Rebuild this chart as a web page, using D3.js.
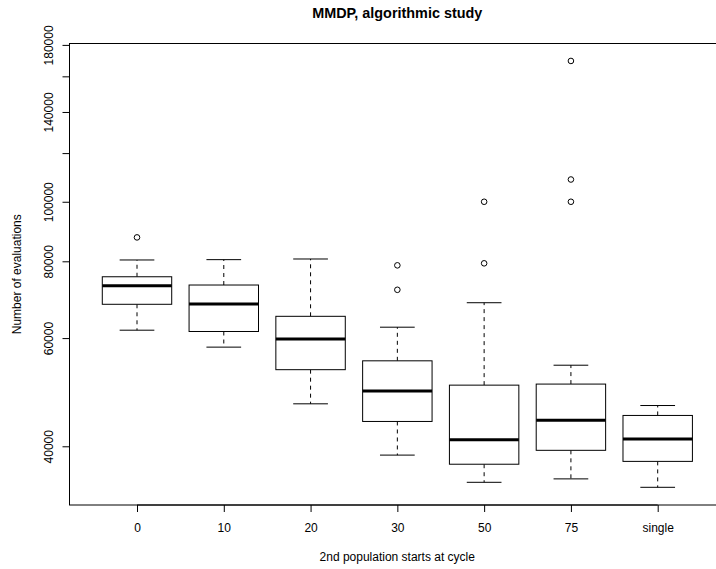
<!DOCTYPE html>
<html>
<head>
<meta charset="utf-8">
<script src="https://cdn.jsdelivr.net/npm/d3@7"></script>
<style>
  body { margin: 0; background: #fff; }
  svg { font-family: "Liberation Sans", Arial, sans-serif; }
</style>
</head>
<body>
<svg id="chart" width="716" height="569"></svg>
<script>
var categories = ["0", "10", "20", "30", "50", "75", "single"];
var whiskerLow  = [61800, 58000, 46900, 38700, 34950, 35400, 34300];
var q1          = [68100, 61500, 53300, 43900, 37400, 39400, 37800];
var median      = [73000, 68200, 59800, 49200, 41000, 44100, 41100];
var q3          = [75500, 73200, 65100, 55100, 50300, 50500, 44900];
var whiskerHigh = [80400, 80500, 80700, 62500, 68500, 54200, 46600];
var outliers    = [[87500], [], [], [78800, 71900], [100000, 79400], [169500, 108700, 100000], []];

var yTicks = [40000, 60000, 80000, 100000, 120000, 140000, 160000, 180000];
var yTickLabels = ["40000", "60000", "80000", "100000", "", "140000", "", "180000"];

var plot = { left: 69.5, right: 725, top: 43.5, bottom: 505 };

var svg = d3.select("#chart");

var x = d3.scalePoint()
    .domain(categories)
    .range([137, 657.7]);

var y = d3.scaleLog()
    .domain([32100, 180950])
    .range([plot.bottom, plot.top]);

var boxW = x.step() * 0.8;

var data = categories.map(function(c, i) {
    return {
        cat: c,
        lo: whiskerLow[i], q1: q1[i], med: median[i], q3: q3[i], hi: whiskerHigh[i],
        out: outliers[i]
    };
});

// frame (right edge falls outside the window like the original)
svg.append("rect")
    .attr("x", plot.left)
    .attr("y", plot.top)
    .attr("width", plot.right - plot.left)
    .attr("height", plot.bottom - plot.top)
    .attr("fill", "none")
    .attr("stroke", "#000")
    .attr("stroke-width", 1);

var g = svg.selectAll(".box")
    .data(data)
    .enter().append("g")
    .attr("class", "box");

// whiskers
g.append("line")
    .attr("x1", function(d) { return x(d.cat); })
    .attr("x2", function(d) { return x(d.cat); })
    .attr("y1", function(d) { return y(d.q3); })
    .attr("y2", function(d) { return y(d.hi); })
    .attr("stroke", "#000")
    .attr("stroke-dasharray", "4,4");
g.append("line")
    .attr("x1", function(d) { return x(d.cat); })
    .attr("x2", function(d) { return x(d.cat); })
    .attr("y1", function(d) { return y(d.q1); })
    .attr("y2", function(d) { return y(d.lo); })
    .attr("stroke", "#000")
    .attr("stroke-dasharray", "4,4");

// staples
["hi", "lo"].forEach(function(k) {
    g.append("line")
        .attr("x1", function(d) { return x(d.cat) - boxW / 4; })
        .attr("x2", function(d) { return x(d.cat) + boxW / 4; })
        .attr("y1", function(d) { return y(d[k]); })
        .attr("y2", function(d) { return y(d[k]); })
        .attr("stroke", "#000");
});

// boxes
g.append("rect")
    .attr("x", function(d) { return x(d.cat) - boxW / 2; })
    .attr("width", boxW)
    .attr("y", function(d) { return y(d.q3); })
    .attr("height", function(d) { return y(d.q1) - y(d.q3); })
    .attr("fill", "#fff")
    .attr("stroke", "#000");

// medians
g.append("line")
    .attr("x1", function(d) { return x(d.cat) - boxW / 2; })
    .attr("x2", function(d) { return x(d.cat) + boxW / 2; })
    .attr("y1", function(d) { return y(d.med); })
    .attr("y2", function(d) { return y(d.med); })
    .attr("stroke", "#000")
    .attr("stroke-width", 3);

// outliers
g.selectAll(".out")
    .data(function(d) { return d.out.map(function(v) { return { cat: d.cat, v: v }; }); })
    .enter().append("circle")
    .attr("class", "out")
    .attr("cx", function(d) { return x(d.cat); })
    .attr("cy", function(d) { return y(d.v); })
    .attr("r", 2.8)
    .attr("fill", "none")
    .attr("stroke", "#000");

// axes
var xAxis = d3.axisBottom(x).tickSize(7).tickSizeOuter(0).tickPadding(11.5);
var xg = svg.append("g")
    .attr("transform", "translate(0," + plot.bottom + ")")
    .call(xAxis);
xg.select(".domain").remove();
xg.append("line")
    .attr("x1", x(categories[0]))
    .attr("x2", x(categories[categories.length - 1]))
    .attr("stroke", "#000");
xg.selectAll("text").style("font-size", "12px").attr("fill", "#000");

var yAxis = d3.axisLeft(y)
    .tickValues(yTicks)
    .tickSize(7)
    .tickSizeOuter(0)
    .tickFormat(function(d, i) { return yTickLabels[i]; });
var yg = svg.append("g")
    .attr("transform", "translate(" + plot.left + ",0)")
    .call(yAxis);
yg.select(".domain").remove();
yg.selectAll("text")
    .attr("x", 0)
    .attr("dy", 0)
    .attr("text-anchor", "middle")
    .attr("transform", "translate(-17,0) rotate(-90)")
    .style("font-size", "12px")
    .attr("fill", "#000");

// titles
var cx = (plot.left + plot.right) / 2;
svg.append("text")
    .attr("x", cx)
    .attr("y", 18.3)
    .attr("text-anchor", "middle")
    .style("font-size", "14.4px")
    .style("font-weight", "bold")
    .text("MMDP, algorithmic study");

svg.append("text")
    .attr("x", cx)
    .attr("y", 561)
    .attr("text-anchor", "middle")
    .style("font-size", "12px")
    .text("2nd population starts at cycle");

svg.append("text")
    .attr("transform", "translate(21," + ((plot.top + plot.bottom) / 2) + ") rotate(-90)")
    .attr("text-anchor", "middle")
    .style("font-size", "12px")
    .text("Number of evaluations");
</script>
</body>
</html>
